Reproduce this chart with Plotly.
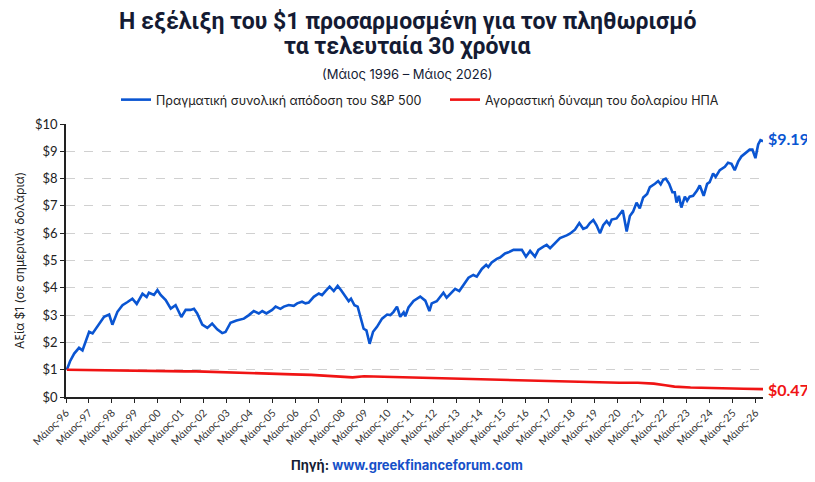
import plotly.graph_objects as go

# ---------------- data ----------------
sp_years = [
    1996.37, 1996.51, 1996.69, 1996.90, 1997.05, 1997.19, 1997.34, 1997.49, 1997.70, 1997.99,
    1998.21, 1998.35, 1998.57, 1998.79, 1999.01, 1999.22, 1999.41, 1999.66, 1999.84, 1999.94,
    2000.16, 2000.31, 2000.45, 2000.67, 2000.89, 2001.10, 2001.35, 2001.54, 2001.75, 2001.90,
    2002.04, 2002.26, 2002.48, 2002.69, 2002.91, 2003.13, 2003.27, 2003.49, 2003.75, 2004.07,
    2004.29, 2004.50, 2004.72, 2004.87, 2005.05, 2005.30, 2005.45, 2005.66, 2005.81, 2006.02,
    2006.24, 2006.39, 2006.60, 2006.75, 2006.89, 2007.11, 2007.33, 2007.47, 2007.62, 2007.80,
    2007.98, 2008.15, 2008.30, 2008.49, 2008.63, 2008.73, 2008.88, 2009.02, 2009.17, 2009.28,
    2009.40, 2009.54, 2009.69, 2009.86, 2010.08, 2010.30, 2010.44, 2010.58, 2010.73, 2010.87,
    2011.02, 2011.09, 2011.23, 2011.45, 2011.74, 2011.96, 2012.14, 2012.24, 2012.46, 2012.75,
    2012.89, 2013.11, 2013.26, 2013.44, 2013.62, 2013.84, 2014.05, 2014.20, 2014.42, 2014.61,
    2014.70, 2014.85, 2015.07, 2015.21, 2015.43, 2015.58, 2015.80, 2016.01, 2016.16, 2016.34,
    2016.52, 2016.73, 2016.88, 2017.10, 2017.24, 2017.39, 2017.60, 2017.82, 2018.11, 2018.25,
    2018.47, 2018.66, 2018.83, 2018.98, 2019.12, 2019.27, 2019.41, 2019.56, 2019.70, 2019.85,
    2019.97, 2020.07, 2020.28, 2020.43, 2020.55, 2020.72, 2020.86, 2021.00, 2021.15, 2021.29,
    2021.44, 2021.61, 2021.73, 2021.95, 2022.09, 2022.20, 2022.31, 2022.42, 2022.57, 2022.71,
    2022.81, 2022.89, 2022.99, 2023.10, 2023.25, 2023.35, 2023.46, 2023.61, 2023.78, 2023.90,
    2024.07, 2024.22, 2024.33, 2024.48, 2024.59, 2024.77, 2024.99, 2025.13, 2025.28, 2025.42,
    2025.57, 2025.71, 2025.90, 2026.07, 2026.19, 2026.32, 2026.44, 2026.54, 2026.65,
]
sp_values = [
    1.00, 1.31, 1.59, 1.80, 1.71, 2.08, 2.39, 2.33, 2.57, 2.94,
    3.02, 2.65, 3.12, 3.36, 3.48, 3.60, 3.41, 3.78, 3.66, 3.82,
    3.74, 3.92, 3.74, 3.55, 3.24, 3.36, 2.93, 3.19, 3.19, 3.23,
    3.06, 2.65, 2.53, 2.69, 2.48, 2.34, 2.38, 2.72, 2.80, 2.87,
    3.00, 3.15, 3.06, 3.15, 3.06, 3.19, 3.31, 3.23, 3.31, 3.37,
    3.34, 3.43, 3.49, 3.43, 3.46, 3.67, 3.79, 3.73, 3.88, 4.04,
    3.88, 4.07, 3.91, 3.67, 3.51, 3.60, 3.36, 3.31, 2.87, 2.50,
    2.44, 1.95, 2.39, 2.57, 2.87, 3.02, 3.00, 3.12, 3.31, 2.94,
    3.10, 2.96, 3.28, 3.52, 3.68, 3.53, 3.15, 3.43, 3.51, 3.82,
    3.64, 3.82, 3.96, 3.88, 4.10, 4.37, 4.47, 4.41, 4.69, 4.84,
    4.76, 4.93, 5.06, 5.11, 5.26, 5.30, 5.39, 5.39, 5.39, 5.14,
    5.35, 5.14, 5.39, 5.51, 5.57, 5.45, 5.63, 5.82, 5.92, 5.98,
    6.13, 6.37, 6.16, 6.21, 6.37, 6.48, 6.29, 6.00, 6.29, 6.44,
    6.31, 6.50, 6.54, 6.69, 6.84, 6.06, 6.63, 6.79, 7.12, 6.91,
    7.31, 7.44, 7.69, 7.81, 7.91, 7.79, 7.96, 8.00, 7.81, 7.50,
    7.50, 7.12, 7.37, 6.94, 7.34, 7.19, 7.34, 7.37, 7.56, 7.75,
    7.37, 7.81, 7.87, 8.19, 8.06, 8.31, 8.43, 8.58, 8.54, 8.31,
    8.62, 8.81, 8.94, 9.06, 9.06, 8.75, 9.25, 9.41, 9.37,
]

usd_years = [
    1996.37, 1997.00, 1997.50, 1998.00, 1998.50, 1999.00, 1999.50, 2000.00, 2000.50, 2001.00,
    2001.50, 2002.00, 2002.50, 2003.20, 2004.20, 2005.20, 2006.20, 2007.00, 2008.00, 2008.80,
    2009.30, 2010.20, 2011.10, 2012.10, 2013.10, 2014.10, 2015.20, 2016.20, 2017.20, 2018.20,
    2019.20, 2020.40, 2021.20, 2021.90, 2022.40, 2022.80, 2023.50, 2024.20, 2025.00, 2025.80,
    2026.65,
]
usd_values = [
    1.00, 0.99, 0.99, 0.99, 0.98, 0.98, 0.97, 0.97, 0.96, 0.95,
    0.94, 0.94, 0.93, 0.90, 0.88, 0.85, 0.83, 0.81, 0.77, 0.72,
    0.76, 0.74, 0.72, 0.69, 0.66, 0.64, 0.62, 0.61, 0.58, 0.56,
    0.53, 0.52, 0.52, 0.49, 0.43, 0.38, 0.35, 0.33, 0.32, 0.30,
    0.29,
]

series_names = ["Πραγματική συνολική απόδοση του S&P 500",
                "Αγοραστική δύναμη του δολαρίου ΗΠΑ"]
end_labels = ["$9.19", "$0.47"]

tick_years = list(range(1996, 2027))
tick_labels = [f"Μάιος-{y % 100:02d}" for y in tick_years]
y_ticks = list(range(0, 11))
y_tick_labels = [f"${v}" for v in y_ticks]

title_lines = ["Η εξέλιξη του $1 προσαρμοσμένη για τον πληθωρισμό",
               "τα τελευταία 30 χρόνια"]
subtitle = "(Μάιος 1996 – Μάιος 2026)"
y_title = "Αξία $1 (σε σημερινά δολάρια)"

# ---------------- styles / layout ----------------
BLUE = "#0a55d2"
RED = "#f01414"
NAVY = "#141b33"
OFF = 8                      # page body margin of the browser
W, H = 815 - OFF, 482 - OFF
PLOT_L, PLOT_R = 66 - OFF, 763 - OFF
PLOT_T, PLOT_B = 124 - OFF, 397 - OFF
PLOT_W, PLOT_H = PLOT_R - PLOT_L, PLOT_B - PLOT_T


def xpix(px):
    return (px - OFF - PLOT_L) / PLOT_W


def ypix(py):
    return (PLOT_B - (py - OFF)) / PLOT_H


fig = go.Figure()
fig.add_trace(go.Scatter(x=sp_years, y=sp_values, mode="lines", name=series_names[0],
                         line=dict(color=BLUE, width=2.6)))
fig.add_trace(go.Scatter(x=usd_years, y=usd_values, mode="lines", name=series_names[1],
                         line=dict(color=RED, width=2.6)))

tick_vals = [y + 4 / 12 for y in tick_years]

fig.update_layout(
    width=W, height=H,
    margin=dict(l=PLOT_L, r=W - PLOT_R, t=PLOT_T, b=H - PLOT_B, autoexpand=False),
    plot_bgcolor="white", paper_bgcolor="white",
    font=dict(family="Lato", color="#222222"),
    showlegend=True,
    legend=dict(orientation="h", x=xpix(116), xanchor="left", y=ypix(100), yanchor="middle",
                font=dict(family="Inter", size=12.5, color="#222222"),
                itemwidth=30, entrywidth=284, bgcolor="rgba(0,0,0,0)"),
    xaxis=dict(range=[tick_vals[0], sp_years[-1]], tickmode="array", automargin=False,
               tickvals=tick_vals, ticktext=tick_labels, tickangle=-45,
               tickfont=dict(family="Lato", size=10.5, color="#333333"),
               showgrid=False, showline=True, linecolor="#222222", linewidth=1.5,
               ticks="outside", ticklen=4, tickcolor="#222222", zeroline=False),
    yaxis=dict(range=[0, 10], tickmode="array", tickvals=y_ticks, ticktext=y_tick_labels,
               automargin=False,
               tickfont=dict(family="Lato", size=13, color="#222222"),
               showgrid=True, gridcolor="#d0d0d0", griddash="dash", gridwidth=1,
               showline=True, linecolor="#222222", linewidth=1.5,
               ticks="outside", ticklen=4, tickcolor="#222222", zeroline=False,
               title=dict(text=y_title, font=dict(family="Inter", size=12, color="#222222"),
                          standoff=8)),
)

# title, subtitle
for text, py, size, fam in [(f"<b>{title_lines[0]}</b>", 21, 23, "Roboto"),
                            (f"<b>{title_lines[1]}</b>", 47, 23, "Roboto"),
                            (subtitle, 74, 13, "Inter")]:
    fig.add_annotation(xref="paper", yref="paper", x=xpix(407), y=ypix(py), text=text,
                       showarrow=False, xanchor="center", yanchor="middle",
                       font=dict(family=fam, size=size, color=NAVY))

# end labels
fig.add_annotation(x=sp_years[-1], y=sp_values[-1], text=f"<b>{end_labels[0]}</b>",
                   showarrow=False, xanchor="left", yanchor="middle", xshift=3, yshift=3,
                   font=dict(family="Lato", size=16, color=BLUE))
fig.add_annotation(x=usd_years[-1], y=usd_values[-1], text=f"<b>{end_labels[1]}</b>",
                   showarrow=False, xanchor="left", yanchor="middle", xshift=3,
                   font=dict(family="Lato", size=16, color=RED))

# source
fig.add_annotation(xref="paper", yref="paper", x=xpix(407), y=ypix(465),
                   text="<b>Πηγή: <span style='color:#1650c8'>www.greekfinanceforum.com</span></b>",
                   showarrow=False, xanchor="center", yanchor="middle",
                   font=dict(family="Inter", size=13, color=NAVY))

fig.write_html("out.html")
